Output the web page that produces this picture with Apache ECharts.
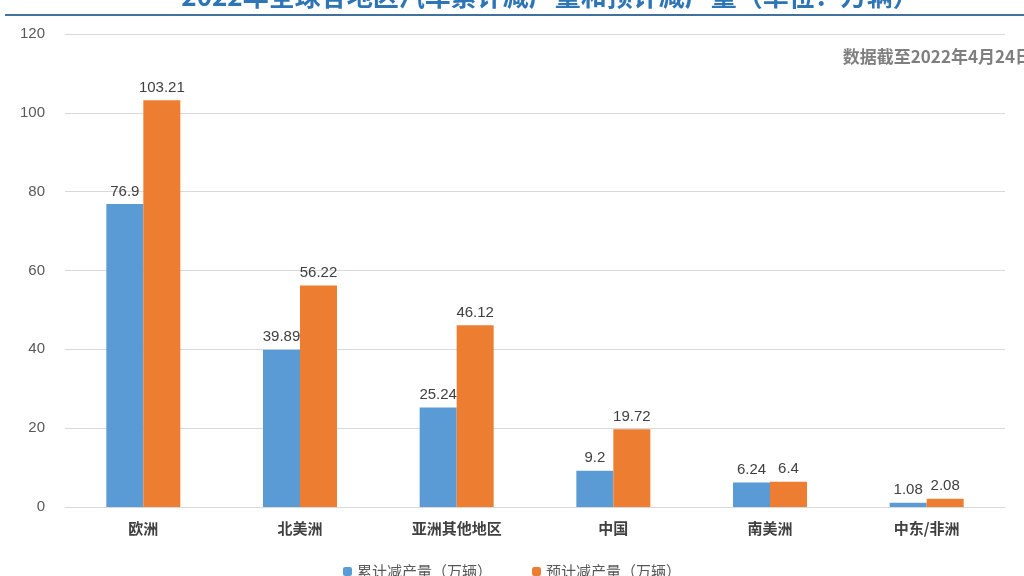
<!DOCTYPE html><html><head><meta charset="utf-8"><script src="https://cdn.jsdelivr.net/npm/echarts@6/dist/echarts.min.js"></script></head><body style="margin:0"><div id="c" style="width:1024px;height:576px"></div><script>
const categories=['欧洲','北美洲','亚洲其他地区','中国','南美洲','中东/非洲'];
const cumulative=[76.9,39.89,25.24,9.2,6.24,1.08];
const forecast=[103.21,56.22,46.12,19.72,6.4,2.08];
const f='"Noto Sans CJK SC", sans-serif';
const c=echarts.init(document.getElementById('c'));
c.setOption({
title:{text:'2022年全球各地区汽车累计减产量和预计减产量（单位：万辆）',left:545,textAlign:'center',top:-22,textStyle:{color:'#2E75B6',fontSize:26,fontWeight:'bold',fontFamily:f}},
graphic:[{type:'line',shape:{x1:5,y1:15,x2:1024,y2:15},style:{stroke:'#41719C',lineWidth:2}},
{type:'text',right:-8,top:48,style:{text:'数据截至2022年4月24日',fill:'#7f7f7f',font:'bold 17px "Noto Sans CJK SC"'}}],
legend:{bottom:-8,left:'center',itemWidth:9,itemHeight:9,itemGap:40,textStyle:{fontSize:15,color:'#595959',fontFamily:f}},
grid:{left:65,right:19,top:34,bottom:69},
xAxis:{type:'category',data:categories,axisLine:{lineStyle:{color:'#d9d9d9'}},axisTick:{show:false},axisLabel:{color:'#404040',fontWeight:'bold',fontSize:15,fontFamily:f,margin:14}},
yAxis:{type:'value',min:0,max:120,interval:20,axisLabel:{color:'#595959',fontSize:15,margin:20},splitLine:{lineStyle:{color:'#d9d9d9'}}},
series:[{name:'累计减产量（万辆）',type:'bar',data:cumulative,barWidth:37,barGap:'0%',itemStyle:{color:'#5B9BD5'},label:{show:true,position:'top',color:'#404040',fontSize:15}},
{name:'预计减产量（万辆）',type:'bar',data:forecast,barWidth:37,itemStyle:{color:'#ED7D31'},label:{show:true,position:'top',color:'#404040',fontSize:15}}]
});
</script></body></html>
